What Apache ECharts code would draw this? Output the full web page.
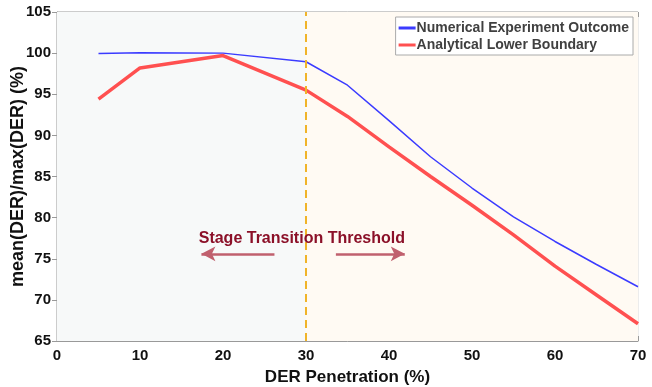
<!DOCTYPE html>
<html>
<head>
<meta charset="utf-8">
<script src="https://cdn.jsdelivr.net/npm/echarts@6/dist/echarts.min.js"></script>
<style>
html,body{margin:0;padding:0;background:#fff;}
#main{width:652px;height:387px;}
</style>
</head>
<body>
<div id="main"></div>
<script type="text/javascript">
// DER penetration (%)
var penetration = [5, 10, 20, 30, 35, 40, 45, 50, 55, 60, 65, 70];
var numerical = [99.95, 100.05, 100.0, 98.95, 96.1, 91.8, 87.4, 83.6, 80.1, 77.1, 74.3, 71.6];
var analytical = [94.4, 98.2, 99.7, 95.5, 92.3, 88.6, 85.0, 81.5, 77.9, 74.1, 70.6, 67.1];
var threshold = 30;
var xTicks = [0, 10, 20, 30, 40, 50, 60, 70];
var yTicks = [65, 70, 75, 80, 85, 90, 95, 100, 105];

function pairs(xs, ys) {
    return xs.map(function (x, i) { return [x, ys[i]]; });
}

var font = 'Arial, "Liberation Sans", sans-serif';
var chart = echarts.init(document.getElementById('main'));

var option = {
    animation: false,
    grid: {left: 57, right: 14, top: 12, bottom: 46, show: true, borderColor: '#999', borderWidth: 1,
        outerBoundsMode: 'none', containLabel: false},
    legend: {
        orient: 'vertical',
        right: 19, top: 17,
        backgroundColor: '#fff',
        borderColor: '#aaa', borderWidth: 1,
        padding: [4, 4, 3, 3],
        itemGap: 3,
        itemWidth: 17, itemHeight: 3,
        icon: 'rect',
        textStyle: {fontFamily: font, fontWeight: 'bold', fontSize: 14, color: '#404040', padding: [0, 0, 0, -4]},
        data: ['Numerical Experiment Outcome', 'Analytical Lower Boundary']
    },
    xAxis: [{
        type: 'value', min: xTicks[0], max: xTicks[xTicks.length - 1], interval: 10,
        name: 'DER Penetration (%)', nameLocation: 'middle', nameGap: 28,
        nameTextStyle: {fontFamily: font, fontWeight: 'bold', fontSize: 17, color: '#111'},
        axisLine: {lineStyle: {color: '#999'}},
        axisTick: {inside: true, length: 5, lineStyle: {color: '#999'}},
        axisLabel: {fontFamily: font, fontWeight: 'bold', fontSize: 15, color: '#111', margin: 7},
        splitLine: {show: true, lineStyle: {color: '#ececec'}}
    }, {
        type: 'value', position: 'top', min: 0, max: 70, interval: 10,
        axisLine: {show: false},
        axisTick: {inside: true, length: 5, lineStyle: {color: '#999'}},
        axisLabel: {show: false}, splitLine: {show: false}
    }],
    yAxis: [{
        type: 'value', min: yTicks[0], max: yTicks[yTicks.length - 1], interval: 5,
        name: 'mean(DER)/max(DER) (%)', nameLocation: 'middle', nameGap: 30, nameMoveOverlap: false,
        nameTextStyle: {fontFamily: font, fontWeight: 'bold', fontSize: 18, color: '#111'},
        axisLine: {show: true, lineStyle: {color: '#999'}},
        axisTick: {show: true, inside: true, length: 5, lineStyle: {color: '#999'}},
        axisLabel: {fontFamily: font, fontWeight: 'bold', fontSize: 15, color: '#111', margin: 6},
        splitLine: {show: true, lineStyle: {color: '#ececec'}}
    }, {
        type: 'value', position: 'right', min: 65, max: 105, interval: 5,
        axisLine: {show: false},
        axisTick: {show: true, inside: true, length: 5, lineStyle: {color: '#999'}},
        axisLabel: {show: false}, splitLine: {show: false}
    }],
    series: [{
        name: 'Numerical Experiment Outcome',
        type: 'line', symbol: 'none', z: 3,
        color: '#3b3bff',
        lineStyle: {width: 1.5, color: '#3b3bff'},
        data: pairs(penetration, numerical),
        markArea: {
            silent: true,
            data: [
                [{xAxis: 0, itemStyle: {color: '#f7f9f9'}}, {xAxis: threshold}],
                [{xAxis: threshold, itemStyle: {color: '#fffaf3'}}, {xAxis: 70}]
            ]
        }
    }, {
        name: 'Analytical Lower Boundary',
        type: 'line', symbol: 'none', z: 4,
        color: '#ff5050',
        lineStyle: {width: 3.5, color: '#ff5050'},
        data: pairs(penetration, analytical),
        markLine: {
            silent: true, symbol: 'none',
            label: {show: false},
            lineStyle: {color: '#f0b429', type: [8, 5], width: 2},
            data: [{xAxis: threshold}]
        }
    }, {
        name: 'annotation',
        type: 'line', symbol: 'none', data: [], z: 5,
        markLine: {
            silent: true,
            symbol: ['none', 'arrow'], symbolSize: [11, 14],
            label: {show: false},
            lineStyle: {color: '#c0606e', type: 'solid', width: 2.5},
            data: [
                [{coord: [26.2, 75.6]}, {coord: [17.4, 75.6]}],
                [{coord: [33.6, 75.6]}, {coord: [41.9, 75.6]}]
            ]
        },
        markPoint: {
            silent: true, symbol: 'circle', symbolSize: 0,
            label: {
                show: true, position: 'inside',
                formatter: 'Stage Transition Threshold',
                fontFamily: font, fontWeight: 'bold', fontSize: 16, color: '#8b1028'
            },
            data: [{coord: [29.5, 77.4]}]
        }
    }]
};
chart.setOption(option);
</script>
</body>
</html>
